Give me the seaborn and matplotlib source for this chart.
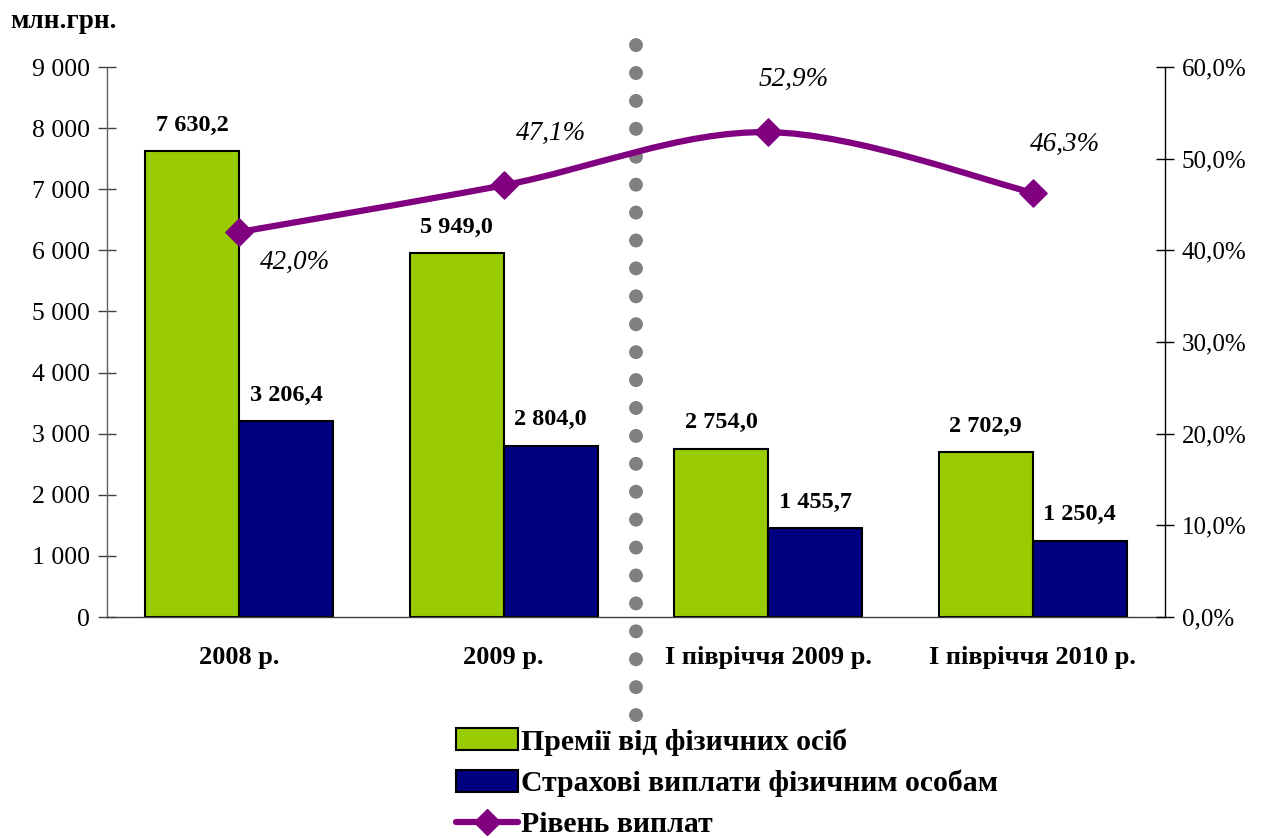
import numpy as np
import pandas as pd
import matplotlib
matplotlib.use('Agg')
import matplotlib.pyplot as plt
from matplotlib.path import Path
from matplotlib.patches import PathPatch, Patch
from matplotlib.lines import Line2D
from matplotlib.ticker import FuncFormatter, FixedLocator
import seaborn as sns

# --- data ---
periods = ['2008 р.', '2009 р.', 'І півріччя 2009 р.', 'І півріччя 2010 р.']
premiums = [7630.2, 5949.0, 2754.0, 2702.9]
payouts = [3206.4, 2804.0, 1455.7, 1250.4]
pay_ratio = [0.420, 0.471, 0.529, 0.463]
series_names = ['Премії від фізичних осіб', 'Страхові виплати фізичним особам', 'Рівень виплат']

GREEN = '#99CC00'; NAVY = '#000080'; PURPLE = '#800080'; GREY = '#808080'

sns.set_style('white')
plt.rcParams['font.family'] = ['Liberation Serif', 'DejaVu Serif']
plt.rcParams.update({'text.color': 'black', 'xtick.color': 'black', 'ytick.color': 'black',
                     'xtick.labelcolor': 'black', 'ytick.labelcolor': 'black',
                     'axes.linewidth': 1.0})

def fmt_num(v, dec=1):
    s = f'{v:,.{dec}f}'
    return s.replace(',', ' ').replace('.', ',')

df = pd.DataFrame({
    'period': periods * 2,
    'value': premiums + payouts,
    'series': [series_names[0]] * 4 + [series_names[1]] * 4,
})

fig = plt.figure(figsize=(12.69, 8.38), dpi=100)
ax = fig.add_axes([0.0843, 0.2637, 0.8337, 0.6563])
sns.barplot(data=df, x='period', y='value', hue='series', palette=[GREEN, NAVY],
            edgecolor='black', linewidth=1.5, width=0.71, gap=0, ax=ax,
            legend=False, saturation=1)
ax.set_xlim(-0.5, 3.5)
ax.set_ylim(0, 9000)
ax.set_xlabel(''); ax.set_ylabel('')
ax.yaxis.set_major_locator(FixedLocator(np.arange(0, 9001, 1000)))
ax.yaxis.set_major_formatter(FuncFormatter(lambda v, p: fmt_num(v, 0)))
ax.tick_params(axis='y', which='major', direction='inout', length=12.5, width=1,
               labelsize=18.5, pad=6, color='#404040')
ax.tick_params(axis='x', which='major', length=0, labelsize=19, pad=21)
for lb in ax.get_xticklabels():
    lb.set_fontweight('bold')
ax.xaxis.set_minor_locator(FixedLocator([-0.5, 0.5, 1.5, 2.5, 3.5]))
ax.tick_params(axis='x', which='minor', direction='out', length=7, width=1, color='#404040')
ax.spines['top'].set_visible(False)
ax.spines['right'].set_visible(False)
ax.spines['left'].set_color('#606060')
ax.spines['bottom'].set_color('#404040')

for cont, vals in zip(ax.containers, [premiums, payouts]):
    ax.bar_label(cont, labels=[fmt_num(v) for v in vals], padding=11,
                 fontsize=17.5, fontweight='bold')

# dotted divider
ax.plot([1.5, 1.5], [1.04, -0.18], transform=ax.get_xaxis_transform(),
        color=GREY, linewidth=10, linestyle=(0, (0.01, 2)), dash_capstyle='round',
        clip_on=False, zorder=3)

# secondary axis with smoothed line
ax2 = ax.twinx()
ax2.set_ylim(0, 0.6)
ax2.yaxis.set_major_locator(FixedLocator(np.arange(0, 0.61, 0.1)))
ax2.yaxis.set_major_formatter(FuncFormatter(lambda v, p: f'{v*100:.1f}%'.replace('.', ',')))
ax2.tick_params(axis='y', direction='inout', length=12.5, width=1, labelsize=18, pad=6)
for s in ['top', 'left', 'bottom']:
    ax2.spines[s].set_visible(False)
ax2.spines['right'].set_color('black')

xs = np.arange(len(pay_ratio), dtype=float)
pts = np.column_stack([xs, pay_ratio])
verts = [pts[0]]
codes = [Path.MOVETO]
for i in range(len(pts) - 1):
    p0 = pts[i - 1] if i > 0 else pts[i]
    p3 = pts[i + 2] if i + 2 < len(pts) else pts[i + 1]
    c1 = pts[i] + (pts[i + 1] - p0) / 6
    c2 = pts[i + 1] - (p3 - pts[i]) / 6
    verts += [c1, c2, pts[i + 1]]
    codes += [Path.CURVE4] * 3
ax2.add_patch(PathPatch(Path(verts, codes), fill=False, edgecolor=PURPLE,
                        linewidth=4.5, capstyle='round', zorder=4))
sns.scatterplot(x=xs, y=pay_ratio, marker='D', s=190, color=PURPLE,
                edgecolor=PURPLE, ax=ax2, zorder=5, legend=False)
offsets = [(40, -22), (34, 37), (18, 38), (23, 35)]
for x, v, off in zip(xs, pay_ratio, offsets):
    ax2.annotate(f'{v*100:.1f}%'.replace('.', ','), (x, v), xytext=off,
                 textcoords='offset points', ha='center', va='center',
                 fontsize=19.5, fontstyle='italic')

fig.text(0.008, 0.974, 'млн.грн.', fontsize=19.5, fontweight='bold', va='center')

handles = [Patch(facecolor=GREEN, edgecolor='black', linewidth=1.5),
           Patch(facecolor=NAVY, edgecolor='black', linewidth=1.5),
           Line2D([], [], color=PURPLE, linewidth=4.5, marker='D', markersize=13)]
fig.legend(handles, series_names, loc='upper left', bbox_to_anchor=(0.359, 0.131),
           frameon=False, prop={'family': ['Liberation Serif'], 'weight': 'bold', 'size': 21.4},
           handlelength=2.1, handleheight=0.75, handletextpad=0.1, labelspacing=0.47,
           borderpad=0, borderaxespad=0)

fig.savefig('out.png', dpi=100)
